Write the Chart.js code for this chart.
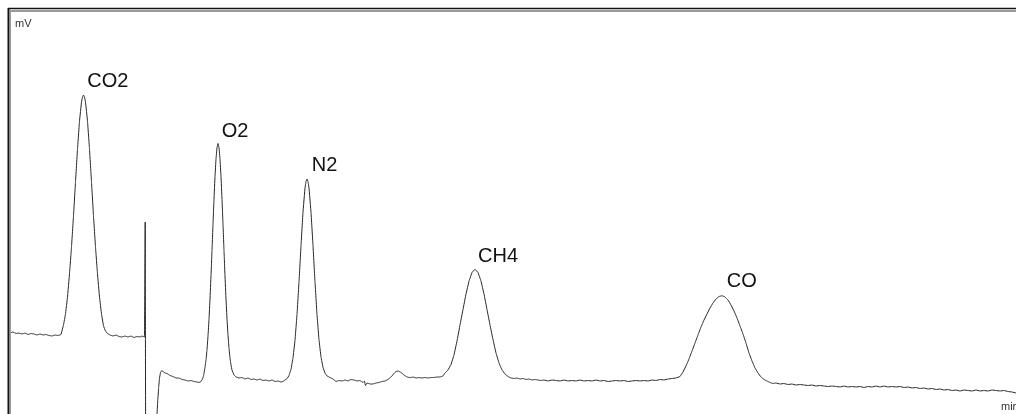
<!DOCTYPE html>
<html>
<head>
<meta charset="utf-8">
<title>GC chromatogram</title>
<script src="https://cdn.jsdelivr.net/npm/chart.js@4"></script>
<style>
html, body { margin: 0; padding: 0; background: #fff; overflow: hidden; }
canvas { display: block; }
</style>
</head>
<body>
<canvas id="chromatogram" width="1016" height="414"></canvas>
<script>
// retention time (min) and detector signal (mV) of the run
const timeMin = [
    0.01, 0.04, 0.07, 0.10, 0.13, 0.16, 0.19, 0.22, 0.25, 0.28, 0.31, 0.34, 0.37, 0.40, 0.43, 0.46, 0.49, 0.52,
    0.545, 0.565, 0.585, 0.605, 0.625, 0.645, 0.665, 0.685, 0.705, 0.725, 0.735, 0.745, 0.755, 0.765, 0.785,
    0.805, 0.825, 0.845, 0.865, 0.885, 0.905, 0.925, 0.945, 0.965, 0.985,
    1.01, 1.04, 1.07, 1.10, 1.13, 1.16, 1.19, 1.22, 1.25, 1.28, 1.31, 1.33, 1.355,
    1.362, 1.366, 1.47, 1.48, 1.488, 1.496, 1.505, 1.515, 1.527, 1.54, 1.56, 1.58, 1.61, 1.64, 1.67, 1.70,
    1.73, 1.76, 1.79, 1.82, 1.85, 1.88, 1.90, 1.92, 1.935, 1.945,
    1.95, 1.96, 1.97, 1.98, 1.99, 2.00, 2.01, 2.02, 2.03, 2.04, 2.05, 2.06, 2.07, 2.08, 2.09, 2.10, 2.11,
    2.12, 2.13, 2.14, 2.15, 2.16, 2.17, 2.18, 2.19, 2.20, 2.21, 2.22, 2.23, 2.25, 2.27,
    2.30, 2.33, 2.36, 2.39, 2.42, 2.45, 2.48, 2.51, 2.54, 2.57, 2.60, 2.63, 2.66, 2.69, 2.72, 2.74,
    2.76, 2.78, 2.80, 2.82, 2.84, 2.86, 2.88, 2.90, 2.92, 2.94, 2.96, 2.97, 2.98, 2.99, 3.00, 3.02, 3.04,
    3.06, 3.08, 3.10, 3.12, 3.14, 3.16, 3.18, 3.21,
    3.24, 3.27, 3.30, 3.33, 3.36, 3.39, 3.42, 3.45, 3.48, 3.51, 3.54, 3.555, 3.565, 3.58, 3.61, 3.64, 3.67,
    3.70, 3.73, 3.76, 3.79, 3.82, 3.85, 3.87, 3.893, 3.92, 3.95, 3.98, 4.01, 4.04, 4.07, 4.10, 4.13, 4.16,
    4.19, 4.22, 4.25, 4.28, 4.31, 4.34,
    4.36, 4.39, 4.42, 4.45, 4.48, 4.51, 4.54, 4.57, 4.60, 4.63, 4.66, 4.69, 4.72, 4.75, 4.78, 4.81, 4.84,
    4.87, 4.90, 4.93, 4.96, 4.99, 5.02,
    5.05, 5.08, 5.11, 5.14, 5.17, 5.20, 5.23, 5.26, 5.29, 5.32, 5.35, 5.39, 5.43, 5.47, 5.51, 5.55, 5.59,
    5.63, 5.67, 5.71, 5.75, 5.79, 5.83, 5.87, 5.91, 5.95, 5.99, 6.03, 6.07, 6.11, 6.15, 6.19, 6.23, 6.27,
    6.31, 6.35, 6.39, 6.43, 6.47, 6.51, 6.55, 6.59, 6.63, 6.67, 6.71,
    6.74, 6.77, 6.80, 6.83, 6.86, 6.89, 6.92, 6.95, 6.98, 7.01, 7.04, 7.07, 7.10, 7.13, 7.16, 7.19, 7.22,
    7.25, 7.28, 7.31, 7.34, 7.37, 7.40, 7.43, 7.46, 7.49, 7.52, 7.55, 7.58, 7.61, 7.64,
    7.67, 7.71, 7.75, 7.79, 7.83, 7.87, 7.91, 7.95, 7.99, 8.03, 8.07, 8.11, 8.15, 8.19, 8.23, 8.27, 8.31,
    8.35, 8.39, 8.43, 8.47, 8.51, 8.55, 8.59, 8.63, 8.67, 8.71, 8.75, 8.79, 8.83, 8.87, 8.91, 8.95, 8.99,
    9.03, 9.07, 9.11, 9.15, 9.19, 9.23, 9.27, 9.31, 9.35, 9.39, 9.43, 9.47, 9.51, 9.55, 9.59, 9.63, 9.67,
    9.71, 9.75, 9.79, 9.83, 9.87, 9.91, 9.95, 9.99, 10.03, 10.07
];
const signalMv = [
    47, 48, 46.5, 47, 46, 47, 45.5, 46.5, 46, 45, 46, 45, 45.5, 44.5, 44, 45, 44.5, 45.5,
    55, 66, 83, 106, 133, 164, 198, 231, 259, 278, 283, 285, 283, 278, 259,
    231, 198, 164, 133, 106, 83, 66, 54, 49, 46.5,
    45, 44, 45, 43.5, 43, 44, 43, 44, 42.5, 43.5, 43, 44, 43,
    158, -40, -40, -34, -20, -8, 2, 7.5, 9.5, 8.5, 7, 6.5, 4.5, 3.5, 2, 2,
    0.5, 0, -1, -0.5, -1.5, -2, -2.5, -1.5, 1, 4,
    7, 12.5, 20, 30, 44, 60.5, 81, 104, 129.5, 156, 181, 203.5, 221, 232.5, 236.5, 232.5, 221,
    203.5, 181, 156, 129.5, 104, 81, 61, 45, 32, 22, 15, 10, 5, 3,
    2, 2.5, 1, 2, 0.5, 1, 0, 1, -0.5, 0, -1, 0, -1.5, -1, -2, -1.5,
    0, 1.3, 4.5, 10.7, 22, 39.6, 65.3, 98, 134.3, 168, 192, 198.5, 201, 198.5, 192, 168, 134.3,
    98, 65.3, 40, 23, 12.5, 7, 4, 2.5,
    1, -1.5, -0.5, -1, 0, -1, 0.5, 0, -1, -0.5, -2.5, -1, -5.5, -3, -4, -4, -3,
    -2.5, -1.5, -1, 0.5, 3, 6.5, 8.5, 9, 7.5, 5, 3, 2.3, 3, 2, 2.5, 2, 2.5,
    2, 2.5, 2.5, 3, 3, 4,
    7, 10, 15.5, 25, 39, 55, 70.5, 86, 99, 107.5, 110.7, 107.5, 99, 86, 70.5, 55, 40.5,
    27, 17, 10, 6, 3.5, 2,
    1.5, 2, 1, 1.5, 0.5, 1, 0, 0.5, 0, -0.5, 0, -1, 0, -0.5, -1, 0, -1,
    -0.5, -1, 0, -1, -0.5, -1, 0, -1, -0.5, -1.5, -1, -0.5, -1, -0.5, -1.5, -1, -0.5,
    -1, -0.5, -1, 0, -0.5, 0.5, 0, 1, 1.5, 2, 3.5,
    8, 14, 21, 29, 37, 45, 53, 60, 66, 72, 77, 81, 83.5, 84.3, 83, 80, 75,
    69, 62, 54, 46, 37, 27, 19, 12, 7, 3, 0.5, -1, -2.5, -3.5,
    -3, -4, -3.5, -4.5, -4, -5, -4.5, -5, -5.5, -5, -6, -5.5, -6, -6.5, -6, -6.5, -7,
    -6, -7, -6.5, -7, -6.5, -7.5, -6.5, -7, -6, -7, -6, -7, -6.5, -7, -6.5, -7.5, -7,
    -8, -7.5, -8.5, -8, -9, -8.5, -9.5, -9, -10, -9.5, -10.5, -10, -11, -10, -10.5, -11, -10,
    -11, -10.5, -11, -10, -10.5, -11, -10.5, -11.5, -12, -13
];

// peak names and where their labels sit (min, mV)
const peakNames = ['CO2', 'O2', 'N2', 'CH4', 'CO'];
const peakLabelTime = [0.783, 2.127, 3.027, 4.69, 7.177];
const peakLabelMv = [293, 243, 209, 118, 93];

const axisUnitY = 'mV';
const axisUnitX = 'min';

const points = timeMin.map((t, i) => ({ x: t, y: signalMv[i] }));

// window frame: dark outer edge with a grey inner line on top and left
const framePlugin = {
    id: 'frame',
    afterDraw(chart) {
        const c = chart.ctx;
        const w = chart.width, h = chart.height;
        c.save();
        c.strokeStyle = '#9a9a9a';
        c.lineWidth = 2;
        c.beginPath();
        c.moveTo(10, 11); c.lineTo(w, 11);
        c.stroke();
        c.lineWidth = 1;
        c.beginPath();
        c.moveTo(10.5, 10); c.lineTo(10.5, h);
        c.stroke();
        c.strokeStyle = '#111';
        c.lineWidth = 1.5;
        c.beginPath();
        c.moveTo(8, 8.5); c.lineTo(w, 8.5);
        c.stroke();
        c.lineWidth = 2;
        c.beginPath();
        c.moveTo(8.5, 8); c.lineTo(8.5, h);
        c.stroke();
        c.restore();
    }
};

// peak names plus the unit captions in the corners
const labelPlugin = {
    id: 'peakLabels',
    afterDatasetsDraw(chart) {
        const c = chart.ctx;
        const xs = chart.scales.x, ys = chart.scales.y;
        const area = chart.chartArea;
        c.save();
        c.fillStyle = '#111';
        c.font = '20px "Liberation Sans", Arial, sans-serif';
        c.textAlign = 'left';
        c.textBaseline = 'alphabetic';
        peakNames.forEach((name, i) => {
            c.fillText(name, xs.getPixelForValue(peakLabelTime[i]), ys.getPixelForValue(peakLabelMv[i]));
        });
        c.fillStyle = '#333';
        c.font = '11px "Liberation Sans", Arial, sans-serif';
        c.fillText(axisUnitY, area.left + 6, area.top + 18);
        c.fillText(axisUnitX, area.right - 15, area.bottom - 4);
        c.restore();
    }
};

const ctx = document.getElementById('chromatogram').getContext('2d');

new Chart(ctx, {
    type: 'line',
    data: {
        datasets: [{
            data: points,
            borderColor: '#262626',
            borderWidth: 1,
            pointRadius: 0,
            // a hair of tension keeps the segments straight but skips the
            // same-pixel merging that puts ticks on the narrow peaks
            tension: 0.0001,
            fill: false
        }]
    },
    options: {
        responsive: false,
        animation: false,
        events: [],
        layout: { padding: { left: 9, top: 9, right: 0, bottom: 0 } },
        plugins: {
            legend: { display: false },
            tooltip: { enabled: false }
        },
        scales: {
            x: { type: 'linear', min: 0, max: 10.07, display: false },
            y: { min: -34, max: 371, display: false }
        }
    },
    plugins: [framePlugin, labelPlugin]
});
</script>
</body>
</html>
